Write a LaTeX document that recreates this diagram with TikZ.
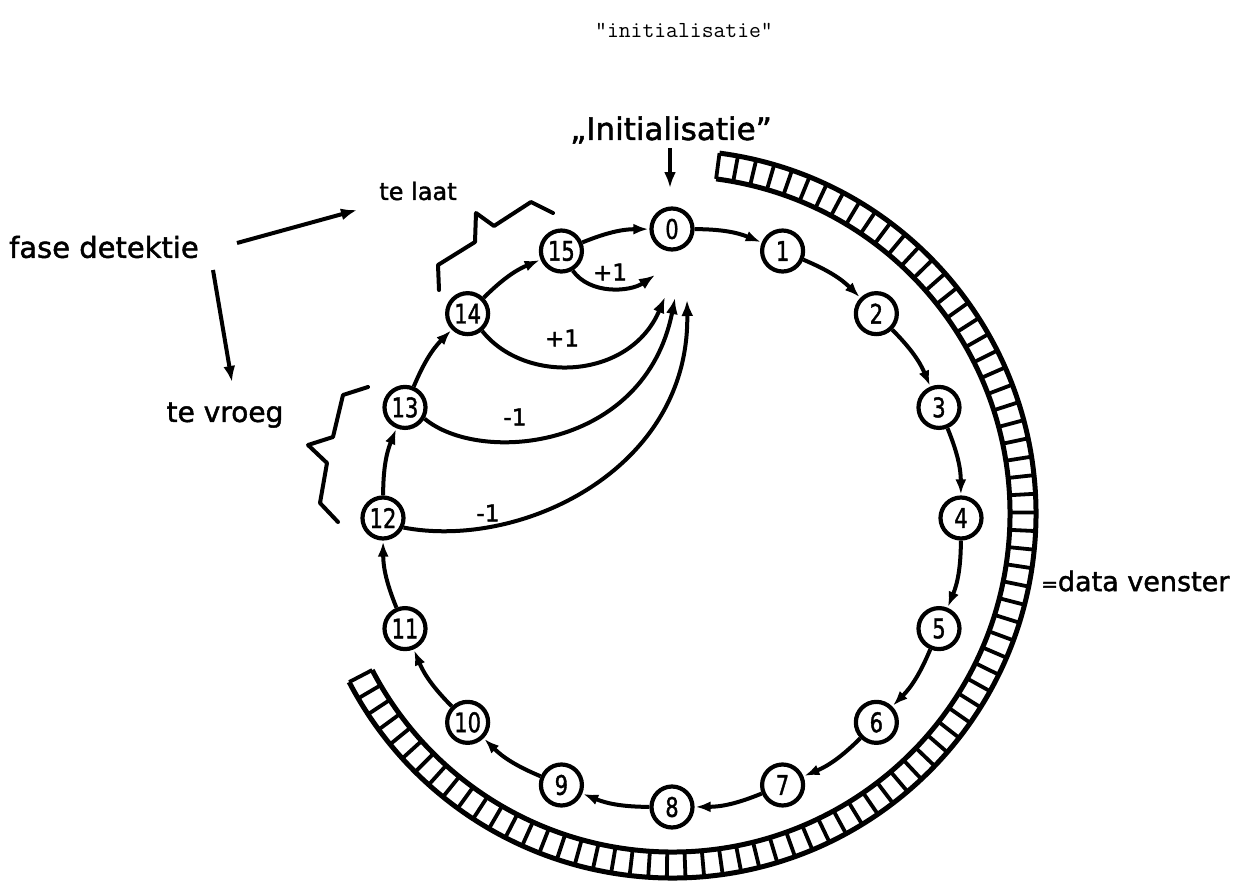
\documentclass[tikz,border=0pt]{standalone}
\usepackage{fontspec}
\setmainfont[FakeBold=1.6]{DejaVu Sans}
\usetikzlibrary{arrows.meta}
\begin{document}
\begin{tikzpicture}[x=1pt,y=1pt,
  st/.style={circle,draw,line width=4.2pt,minimum size=41pt,inner sep=0pt,font=\fontsize{27}{27}\selectfont},
  ring/.style={line width=4pt,-{Latex[length=15pt,width=11pt]},shorten >=1pt},
  arr/.style={line width=4pt,-{Latex[length=16pt,width=12pt]}},
  lbl/.style={inner sep=0pt},
  brace/.style={line width=4pt,line join=round,line cap=round},
  cell/.style={line width=3.8pt},
  rim/.style={line width=5pt}]
\useasboundingbox (0,0) rectangle (1243,-881);
% title
\node[lbl,font=\ttfamily\fontsize{23}{23}\selectfont] (title) at (684,-30) {"initialisatie"};
% ring nodes
\begin{scope}[shift={(672,-518)}]
\foreach \k in {0,...,15}
  \node[st] (n\k) at ({90-22.5*\k}:289) {\scalebox{0.78}[1]{\k}};
\end{scope}
\foreach \k [evaluate=\k as \j using {int(mod(\k+1,16))}] in {0,...,15}
  \draw[ring] (n\k) to[bend left=11] (n\j);
% data window
\begin{scope}[shift={(672,-514)}]
\draw[rim] (82.5:338) arc[start angle=82.5,end angle=-152.5,radius=338];
\draw[rim] (82.5:364) arc[start angle=82.5,end angle=-152.5,radius=364];
\foreach \i in {0,...,80}
  \draw[cell] ({82.5-\i*2.9375}:338) -- ({82.5-\i*2.9375}:364);
\end{scope}
\node[lbl,font=\fontsize{27}{27}\selectfont,anchor=west] (dv) at (1041,-581) {{\fontsize{20}{20}\selectfont=}data venster};
% initialisatie
\node[lbl,font=\fontsize{31}{31}\selectfont] (init) at (671,-130) {„Initialisatie"};
\coordinate (itop) at (670,-148);
\coordinate (itip) at (670,-188);
\draw[arr] (itop) -- (itip);
% phase detection
\node[lbl,font=\fontsize{29}{29}\selectfont] (fase) at (104,-247) {fase detektie};
\node[lbl,font=\fontsize{24}{24}\selectfont] (laat) at (418,-191) {te laat};
\node[lbl,font=\fontsize{28}{28}\selectfont] (vroeg) at (225,-415) {te vroeg};
\coordinate (f1) at (237,-243);
\coordinate (f1t) at (357,-210);
\coordinate (f2) at (213,-270);
\coordinate (f2t) at (232,-382);
\draw[arr] (f1) -- (f1t);
\draw[arr] (f2) -- (f2t);
% braces
\draw[brace] (439,-290) -- (438,-265) -- (475,-242) -- (476,-213) -- (494,-226) -- (531,-202) -- (553,-213);
\draw[brace] (368,-387) -- (343,-395) -- (333,-437) -- (308,-445) -- (327,-463) -- (320,-503) -- (338,-522);
% correction arrows
\coordinate (t15) at (655,-275);
\coordinate (t14) at (665,-297);
\coordinate (t13) at (675,-298);
\coordinate (t12) at (687,-300);
\draw[arr] (n15.-60) .. controls (590,-295) and (630,-292) .. (t15);
\draw[arr] (n14.-50) .. controls (525,-385) and (630,-380) .. (t14);
\draw[arr] (n13.-30) .. controls (480,-465) and (645,-450) .. (t13);
\draw[arr] (n12.-25) .. controls (520,-550) and (690,-470) .. (t12);
\node[lbl,font=\fontsize{23}{23}\selectfont] (p1) at (610,-272) {+1};
\node[lbl,font=\fontsize{23}{23}\selectfont] (p2) at (562,-338) {+1};
\node[lbl,font=\fontsize{23}{23}\selectfont] (m1) at (515,-417) {-1};
\node[lbl,font=\fontsize{23}{23}\selectfont] (m2) at (488,-513) {-1};
\end{tikzpicture}
\end{document}
